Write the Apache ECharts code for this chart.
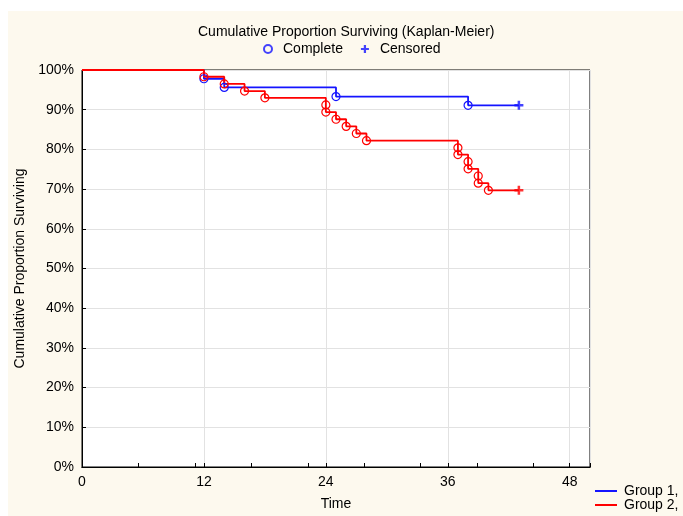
<!DOCTYPE html>
<html>
<head>
<meta charset="utf-8">
<script src="https://cdn.jsdelivr.net/npm/echarts@6/dist/echarts.min.js"></script>
<style>
  html, body { margin: 0; padding: 0; background: #ffffff; overflow: hidden; }
  #bg { position: absolute; left: 8px; top: 11px; width: 675px; height: 505px; background: #fdf9ee; }
  #chart { position: absolute; left: 0; top: 0; width: 683px; height: 516px; }
</style>
</head>
<body>
<div id="bg"></div>
<div id="chart"></div>
<script>
// ---- data ----
const titleText = 'Cumulative Proportion Surviving (Kaplan-Meier)';
const xTicks = [0, 12, 24, 36, 48];
const yTicks = [0, 10, 20, 30, 40, 50, 60, 70, 80, 90, 100];

const g1Name = 'Group 1,';
const g1EventTimes = [12, 14, 25, 38];
const g1EventSurv = [97.8, 95.6, 93.3, 91.1];
const g1CensorTimes = [43];
const g1CensorSurv = [91.1];

const g2Name = 'Group 2,';
const g2EventTimes = [12, 14, 16, 18, 24, 24, 25, 26, 27, 28, 37, 37, 38, 38, 39, 39, 40];
const g2EventSurv = [98.3, 96.5, 94.7, 93.0, 91.2, 89.4, 87.6, 85.8, 84.0, 82.2, 80.4, 78.7, 76.9, 75.1, 73.3, 71.5, 69.7];
const g2CensorTimes = [43];
const g2CensorSurv = [69.7];

// ---- build ----
const BLUE = '#1414ff';
const RED = '#ff0000';
const FONT = 'Liberation Sans, Arial, sans-serif';
const plusPath = 'path://M3.6,0H6.4V3.6H10V6.4H6.4V10H3.6V6.4H0V3.6H3.6Z';

function stepData(times, surv, cTimes, cSurv) {
  const d = [[0, 100]];
  times.forEach((t, i) => d.push([t, surv[i]]));
  cTimes.forEach((t, i) => d.push([t, cSurv[i]]));
  return d;
}
function pts(times, surv) { return times.map((t, i) => [t, surv[i]]); }

const el = document.getElementById('chart');
const chart = echarts.init(el, null, { renderer: 'canvas' });
chart.setOption({
  backgroundColor: 'transparent',
  animation: false,
  textStyle: { fontFamily: FONT },
  title: {
    text: titleText,
    left: 193, top: 20,
    textStyle: { fontSize: 14, fontWeight: 'normal', color: '#000', fontFamily: FONT }
  },
  legend: [
    {
      data: [
        { name: 'Complete', icon: 'circle' },
        { name: 'Censored', icon: plusPath }
      ],
      orient: 'horizontal',
      left: 263, top: 42, padding: 0,
      itemWidth: 8, itemHeight: 8, itemGap: 18,
      selectedMode: false,
      textStyle: { fontSize: 14, color: '#000', fontFamily: FONT, padding: [0, 0, 0, 6] }
    },
    {
      data: [
        { name: g1Name, icon: 'rect' },
        { name: g2Name, icon: 'rect' }
      ],
      orient: 'vertical',
      left: 595, top: 484, padding: 0,
      itemWidth: 22, itemHeight: 2, itemGap: 0,
      selectedMode: false,
      textStyle: { fontSize: 14, lineHeight: 14, color: '#000', fontFamily: FONT, padding: [0, 0, 0, 2] }
    }
  ],
  grid: {
    left: 82, top: 70, width: 508, height: 401,
    show: true, backgroundColor: '#ffffff', borderColor: '#000', borderWidth: 1
  },
  xAxis: [
    {
      type: 'value', min: 0, max: 50, interval: 12,
      name: 'Time', nameLocation: 'middle', nameGap: 30,
      nameTextStyle: { fontSize: 14, color: '#000', fontFamily: FONT },
      axisLine: { show: true, onZero: false, lineStyle: { color: '#000', width: 1 } },
      axisTick: { show: true, inside: true, length: 4, lineStyle: { color: '#000' } },
      axisLabel: {
        fontSize: 14, color: '#000', margin: 8, fontFamily: FONT,
        formatter: v => (xTicks.indexOf(v) >= 0 ? String(v) : '')
      },
      splitLine: { show: true, lineStyle: { color: '#e2e2e2', width: 1 } }
    },
    {
      type: 'value', position: 'top', min: 0, max: 9, interval: 1,
      axisLine: { show: true, lineStyle: { color: '#000', width: 1 } },
      axisTick: { show: true, inside: false, length: 4, lineStyle: { color: '#000' } },
      axisLabel: { show: false },
      splitLine: { show: false }
    }
  ],
  yAxis: {
    type: 'value', min: 0, max: 100, interval: 10,
    name: 'Cumulative Proportion Surviving', nameLocation: 'middle', nameGap: 50,
    nameTextStyle: { fontSize: 14, color: '#000', fontFamily: FONT },
    axisLine: { show: true, lineStyle: { color: '#000', width: 1 } },
    axisTick: { show: true, inside: true, length: 4, lineStyle: { color: '#000' } },
    axisLabel: {
      fontSize: 14, color: '#000', margin: 8, fontFamily: FONT,
      formatter: v => (yTicks.indexOf(v) >= 0 ? v + '%' : '')
    },
    splitLine: { show: true, lineStyle: { color: '#e2e2e2', width: 1 } }
  },
  series: [
    {
      name: g1Name, type: 'line', step: 'end', showSymbol: false,
      data: stepData(g1EventTimes, g1EventSurv, g1CensorTimes, g1CensorSurv),
      lineStyle: { color: BLUE, width: 1.8 }, itemStyle: { color: BLUE }, z: 2
    },
    {
      name: g2Name, type: 'line', step: 'end', showSymbol: false,
      data: stepData(g2EventTimes, g2EventSurv, g2CensorTimes, g2CensorSurv),
      lineStyle: { color: RED, width: 1.8 }, itemStyle: { color: RED }, z: 3
    },
    {
      type: 'scatter', symbol: 'circle', symbolSize: 8,
      data: pts(g1EventTimes, g1EventSurv),
      itemStyle: { color: 'rgba(0,0,0,0)', borderColor: BLUE, borderWidth: 1.2, opacity: 1 }, z: 4
    },
    {
      type: 'scatter', symbol: 'circle', symbolSize: 8,
      data: pts(g2EventTimes, g2EventSurv),
      itemStyle: { color: 'rgba(0,0,0,0)', borderColor: RED, borderWidth: 1.2, opacity: 1 }, z: 5
    },
    {
      type: 'scatter', symbol: plusPath, symbolSize: 9,
      data: pts(g1CensorTimes, g1CensorSurv),
      itemStyle: { color: BLUE }, z: 6
    },
    {
      type: 'scatter', symbol: plusPath, symbolSize: 9,
      data: pts(g2CensorTimes, g2CensorSurv),
      itemStyle: { color: RED }, z: 6
    },
    { name: 'Complete', type: 'scatter', symbol: 'circle', data: [],
      itemStyle: { color: '#fdf9ee', borderColor: BLUE, borderWidth: 1 } },
    { name: 'Censored', type: 'scatter', symbol: plusPath, data: [], itemStyle: { color: BLUE } }
  ]
});
</script>
</body>
</html>
